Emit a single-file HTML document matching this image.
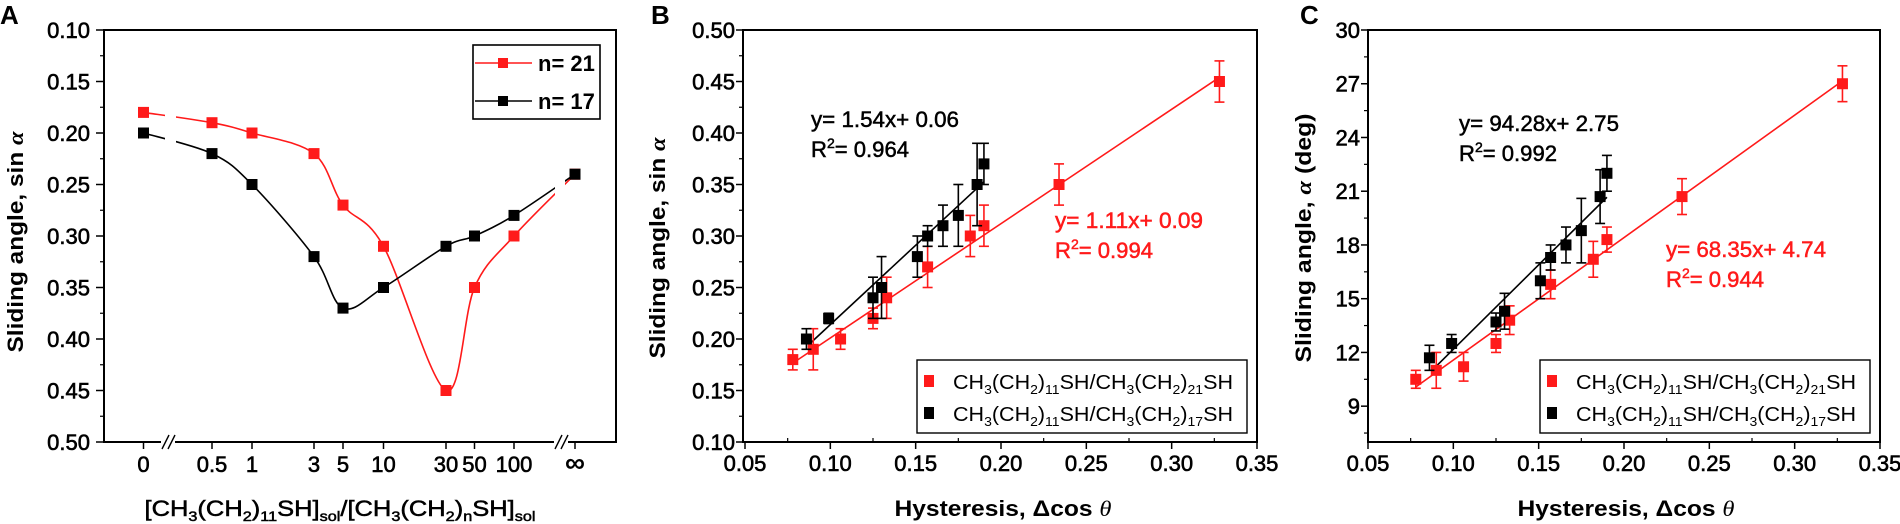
<!DOCTYPE html>
<html><head><meta charset="utf-8"><style>
html,body{margin:0;padding:0;background:#fff;}
svg{display:block;font-family:"Liberation Sans",sans-serif;}
</style></head><body>
<svg id="fig" width="1900" height="524" viewBox="0 0 1900 524" xmlns="http://www.w3.org/2000/svg">
<g id="pa"></g>
<g id="pb"></g>
<g id="pc"></g>
</svg>
<script>
// Panel A data
const aCategories = ["0","0.5","1","3","5","10","30","50","100","\u221e"];
const aRed = [0.18,0.19,0.20,0.22,0.27,0.31,0.45,0.35,0.30,0.24];
const aBlack = [0.20,0.22,0.25,0.32,0.37,0.35,0.31,0.30,0.28,0.24];
const aYTicks = [0.10,0.15,0.20,0.25,0.30,0.35,0.40,0.45,0.50];
// Panel B data
const bRedX = [0.078,0.090,0.106,0.125,0.133,0.157,0.182,0.190,0.234,0.328];
const bRedY = [0.18,0.19,0.20,0.22,0.24,0.27,0.30,0.31,0.35,0.45];
const bRedErr = [0.01,0.02,0.01,0.01,0.02,0.02,0.02,0.02,0.02,0.02];
const bBlackX = [0.086,0.099,0.125,0.130,0.151,0.157,0.166,0.175,0.186,0.190];
const bBlackY = [0.20,0.22,0.24,0.25,0.28,0.30,0.31,0.32,0.35,0.37];
const bBlackErr = [0.01,0.005,0.02,0.03,0.02,0.01,0.02,0.03,0.04,0.02];
const bYTicks = [0.10,0.15,0.20,0.25,0.30,0.35,0.40,0.45,0.50];
const bFitRed = [1.11,0.09];
const bFitBlack = [1.54,0.06];
// Panel C data
const cRedX = [0.078,0.090,0.106,0.125,0.133,0.157,0.182,0.190,0.234,0.328];
const cRedY = [10.5,11.0,11.2,12.5,13.8,15.8,17.2,18.3,20.7,27.0];
const cRedErr = [0.5,1.0,0.8,0.5,0.8,0.8,1.0,0.7,1.0,1.0];
const cBlackX = [0.086,0.099,0.125,0.130,0.151,0.157,0.166,0.175,0.186,0.190];
const cBlackY = [11.7,12.5,13.7,14.3,16.0,17.3,18.0,18.8,20.7,22.0];
const cBlackErr = [0.7,0.5,0.5,1.0,1.0,0.7,1.0,1.8,1.5,1.0];
const cYTicks = [9,12,15,18,21,24,27,30];
const cFitRed = [68.35,4.74];
const cFitBlack = [94.28,2.75];
const xTicks = [0.05,0.10,0.15,0.20,0.25,0.30,0.35];

const NS="http://www.w3.org/2000/svg";
function mk(parent,tag,attrs){const e=document.createElementNS(NS,tag);for(const k in attrs)e.setAttribute(k,attrs[k]);parent.appendChild(e);return e;}
function txt(parent,x,y,s,size,anchor,weight,fill){const t=mk(parent,"text",{x:x,y:y,"font-size":size,"text-anchor":anchor||"middle","font-weight":weight||"normal",fill:fill||"#000"});t.textContent=s;return t;}
function tick(parent,x,y,s,anchor){const t=txt(parent,x,y,s,22,anchor);t.setAttribute("stroke","#000");t.setAttribute("stroke-width","0.6");return t;}
const RED="#ff1a1a";

// ---------- Panel A ----------
(function(){
const g=document.getElementById("pa");
const L=104,R=616,T=30,B=442;
const catX=[143.5,212,252,314,343,383.5,446,474.5,514,575];
const y=v=>T+(v-0.10)/(0.40)*(B-T);
const lt=txt(g,0,24,"A",26,"start","bold");


const fr=mk(g,"rect",{x:L,y:T,width:R-L,height:B-T,fill:"none",stroke:"#000","stroke-width":2});


aYTicks.forEach((v,i)=>{
  mk(g,"line",{x1:L-8,x2:L,y1:y(v),y2:y(v),stroke:"#000","stroke-width":1.5});
  if(i<aYTicks.length-1) mk(g,"line",{x1:L-4,x2:L,y1:y(v+0.025),y2:y(v+0.025),stroke:"#000","stroke-width":1.2});
  const t=tick(g,90,y(v)+8,v.toFixed(2),"end");
  
  
});
aCategories.forEach((c,i)=>{
  mk(g,"line",{x1:catX[i],x2:catX[i],y1:B,y2:B+7,stroke:"#000","stroke-width":1.5});
  const t=c==="\u221e"?txt(g,catX[i],B+30,c,28,"middle","bold"):tick(g,catX[i],B+30,c,"middle");
  
  
});
function curve(vals,color,name){
  const p=vals.map((v,i)=>[catX[i],y(v)]);
  let d="M"+p[0][0]+","+p[0][1];
  for(let i=0;i<p.length-1;i++){
    const p0=p[i-1]||p[i],p1=p[i],p2=p[i+1],p3=p[i+2]||p[i+1];
    const c1=[p1[0]+(p2[0]-p0[0])/6,p1[1]+(p2[1]-p0[1])/6];
    const c2=[p2[0]-(p3[0]-p1[0])/6,p2[1]-(p3[1]-p1[1])/6];
    d+=" C"+c1+" "+c2+" "+p2;
  }
  const pa=mk(g,"path",{d:d,fill:"none",stroke:color,"stroke-width":1.6});
  
  
  return p;
}
const pr=curve(aRed,RED,"n21");
const pk=curve(aBlack,"#000","n17");
mk(g,"rect",{x:165,y:T+2,width:11,height:B-T-4,fill:"#fff"});
mk(g,"rect",{x:555,y:T+2,width:10,height:B-T-4,fill:"#fff"});
mk(g,"rect",{x:161,y:B-3,width:14,height:6,fill:"#fff"});
mk(g,"rect",{x:554,y:B-3,width:14,height:6,fill:"#fff"});
[[162],[168],[555],[561]].forEach(a=>mk(g,"line",{x1:a[0],y1:B+7,x2:a[0]+7,y2:B-7,stroke:"#000","stroke-width":1.4}));
function marks(p,color,name){p.forEach(q=>{const r=mk(g,"rect",{x:q[0]-5.5,y:q[1]-5.5,width:11,height:11,fill:color});
  
  });}
marks(pr,RED,"n21");marks(pk,"#000","n17");
const lg=mk(g,"g",{});


mk(lg,"rect",{x:473,y:45,width:127,height:74,fill:"#fff",stroke:"#000","stroke-width":1.6});
mk(lg,"line",{x1:475,x2:532,y1:63,y2:63,stroke:RED,"stroke-width":1.6});
mk(lg,"rect",{x:498,y:58,width:10,height:10,fill:RED});
txt(lg,538,71,"n= 21",22,"start","bold");
mk(lg,"line",{x1:475,x2:532,y1:101,y2:101,stroke:"#000","stroke-width":1.6});
mk(lg,"rect",{x:498,y:96,width:10,height:10,fill:"#000"});
txt(lg,538,109,"n= 17",22,"start","bold");
const yt=mk(g,"text",{x:0,y:0,"font-size":22,"font-weight":"bold","text-anchor":"middle",transform:"translate(23,242) rotate(-90)",textLength:221,lengthAdjust:"spacingAndGlyphs"});
yt.innerHTML='Sliding angle, sin <tspan font-style="italic" font-family="Liberation Serif">α</tspan>';


const xt=mk(g,"text",{x:340,y:516,"font-size":22,"text-anchor":"middle",stroke:"#000","stroke-width":0.5,textLength:391,lengthAdjust:"spacingAndGlyphs"});
xt.innerHTML='[CH<tspan font-size="14" dy="5">3</tspan><tspan dy="-5">(CH</tspan><tspan font-size="14" dy="5">2</tspan><tspan dy="-5">)</tspan><tspan font-size="14" dy="5">11</tspan><tspan dy="-5">SH]</tspan><tspan font-size="14" dy="5">sol</tspan><tspan dy="-5">/[CH</tspan><tspan font-size="14" dy="5">3</tspan><tspan dy="-5">(CH</tspan><tspan font-size="14" dy="5">2</tspan><tspan dy="-5">)</tspan><tspan font-size="14" dy="5">n</tspan><tspan dy="-5">SH]</tspan><tspan font-size="14" dy="5">sol</tspan>';


})();

// ---------- Panels B & C ----------
function scatterPanel(o){
const g=document.getElementById(o.id);
const {L,R,T,B,x0,x1,ymin,ymax}=o;
const x=v=>x0+(v-0.05)/0.30*(x1-x0);
const y=v=>B-(v-ymin)/(ymax-ymin)*(B-T);
const lt=txt(g,o.letterX,24,o.letter,26,"start","bold");


const fr=mk(g,"rect",{x:L,y:T,width:R-L,height:B-T,fill:"none",stroke:"#000","stroke-width":2});


o.yTicks.forEach((v,i)=>{
  mk(g,"line",{x1:L-7,x2:L,y1:y(v),y2:y(v),stroke:"#000","stroke-width":1.5});
  const t=tick(g,L-8,y(v)+8,o.fmt(v),"end");
  
  
});
o.yMinor.forEach(v=>mk(g,"line",{x1:L-4,x2:L,y1:y(v),y2:y(v),stroke:"#000","stroke-width":1.2}));
xTicks.forEach((v,i)=>{
  mk(g,"line",{x1:x(v),x2:x(v),y1:B,y2:B+7,stroke:"#000","stroke-width":1.5});
  if(i<xTicks.length-1) mk(g,"line",{x1:x(v+0.025),x2:x(v+0.025),y1:B-4,y2:B,stroke:"#000","stroke-width":1.2});
  const t=tick(g,x(v),B+29,v.toFixed(2),"middle");
  
  
});
function fit(f,xa,xb,color,name){
  const l=mk(g,"line",{x1:x(xa),y1:y(f[0]*xa+f[1]),x2:x(xb),y2:y(f[0]*xb+f[1]),stroke:color,"stroke-width":1.6});
  
  
}
fit(o.fitRed,0.078,0.328,RED,"fit-line-red");
fit(o.fitBlack,0.088,0.19,"#000","fit-line-black");
function series(X,Y,E,color,name){
  X.forEach((xv,i)=>{
    const px=x(xv),pt=y(Y[i]+E[i]),pb=y(Y[i]-E[i]);
    mk(g,"line",{x1:px,x2:px,y1:pt,y2:pb,stroke:color,"stroke-width":1.6});
    mk(g,"line",{x1:px-5,x2:px+5,y1:pt,y2:pt,stroke:color,"stroke-width":1.6});
    mk(g,"line",{x1:px-5,x2:px+5,y1:pb,y2:pb,stroke:color,"stroke-width":1.6});
    const r=mk(g,"rect",{x:px-5.5,y:y(Y[i])-5.5,width:11,height:11,fill:color});
    
    
  });
}
series(o.rX,o.rY,o.rE,RED,"red-series");
series(o.kX,o.kY,o.kE,"#000","black-series");
function eq(xx,yy,s1,r2,color,w1,w2){
  const t=mk(g,"text",{x:xx,y:yy,"font-size":22,fill:color,stroke:color,"stroke-width":0.5,textLength:w1,lengthAdjust:"spacingAndGlyphs"});t.textContent=s1;
  
  
  const t2=mk(g,"text",{x:xx,y:yy+30,"font-size":22,fill:color,stroke:color,"stroke-width":0.5,textLength:w2,lengthAdjust:"spacingAndGlyphs"});
  t2.innerHTML='R<tspan font-size="14" dy="-9">2</tspan><tspan dy="9">= '+r2+'</tspan>';
  
  
}
eq(o.eqK[0],o.eqK[1],o.eqKs,o.eqKr,"#000",o.eqKw,98);
eq(o.eqR[0],o.eqR[1],o.eqRs,o.eqRr,RED,o.eqRw,98);
const lg=mk(g,"g",{});


mk(lg,"rect",{x:o.lgX,y:360,width:330,height:73,fill:"#fff",stroke:"#000","stroke-width":1.4});
const lab=n=>'CH<tspan font-size="13" dy="5">3</tspan><tspan dy="-5">(CH</tspan><tspan font-size="13" dy="5">2</tspan><tspan dy="-5">)</tspan><tspan font-size="13" dy="5">11</tspan><tspan dy="-5">SH/CH</tspan><tspan font-size="13" dy="5">3</tspan><tspan dy="-5">(CH</tspan><tspan font-size="13" dy="5">2</tspan><tspan dy="-5">)</tspan><tspan font-size="13" dy="5">'+n+'</tspan><tspan dy="-5">SH</tspan>';
mk(lg,"rect",{x:o.lgX+7,y:375,width:10,height:12,fill:RED});
const l1=mk(lg,"text",{x:o.lgX+36,y:389,"font-size":20,textLength:280,lengthAdjust:"spacingAndGlyphs"});l1.innerHTML=lab("21");


mk(lg,"rect",{x:o.lgX+7,y:407,width:10,height:12,fill:"#000"});
const l2=mk(lg,"text",{x:o.lgX+36,y:421,"font-size":20,textLength:280,lengthAdjust:"spacingAndGlyphs"});l2.innerHTML=lab("17");


const yt=mk(g,"text",{x:0,y:0,"font-size":22,"font-weight":"bold","text-anchor":"middle",transform:"translate("+o.ytX+","+o.ytY+") rotate(-90)",textLength:o.ytW,lengthAdjust:"spacingAndGlyphs"});
yt.innerHTML=o.ytHTML;


const xt=mk(g,"text",{x:(x0+x1)/2+2,y:516,"font-size":22,"font-weight":"bold","text-anchor":"middle",textLength:217,lengthAdjust:"spacingAndGlyphs"});
xt.innerHTML='Hysteresis, Δcos <tspan font-style="italic" font-weight="normal" font-family="Liberation Serif">θ</tspan>';


}
const bMinor=[];for(let v=0.125;v<0.5;v+=0.05)bMinor.push(v);
scatterPanel({id:"pb",letter:"B",letterX:651,L:743,R:1257,T:30,B:442,x0:745,x1:1257,ymin:0.10,ymax:0.50,
 yTicks:bYTicks,yMinor:bMinor,fmt:v=>v.toFixed(2),
 rX:bRedX,rY:bRedY,rE:bRedErr,kX:bBlackX,kY:bBlackY,kE:bBlackErr,fitRed:bFitRed,fitBlack:bFitBlack,
 eqK:[811,127],eqKs:"y= 1.54x+ 0.06",eqKr:"0.964",eqKw:148,eqR:[1055,228],eqRs:"y= 1.11x+ 0.09",eqRr:"0.994",eqRw:148,
 lgX:917,ytX:665,ytY:248,ytW:221,ytHTML:'Sliding angle, sin <tspan font-style="italic" font-family="Liberation Serif">α</tspan>'});
const cMinor=[7.5];for(let v=10.5;v<30;v+=3)cMinor.push(v);
scatterPanel({id:"pc",letter:"C",letterX:1300,L:1368,R:1880,T:30,B:442,x0:1368,x1:1880,ymin:7,ymax:30,
 yTicks:cYTicks,yMinor:cMinor,fmt:v=>String(v),
 rX:cRedX,rY:cRedY,rE:cRedErr,kX:cBlackX,kY:cBlackY,kE:cBlackErr,fitRed:cFitRed,fitBlack:cFitBlack,
 eqK:[1459,131],eqKs:"y= 94.28x+ 2.75",eqKr:"0.992",eqKw:160,eqR:[1666,257],eqRs:"y= 68.35x+ 4.74",eqRr:"0.944",eqRw:160,
 lgX:1540,ytX:1311,ytY:238,ytW:249,ytHTML:'Sliding angle, <tspan font-style="italic" font-family="Liberation Serif">α</tspan> (deg)'});
</script>
</body></html>
